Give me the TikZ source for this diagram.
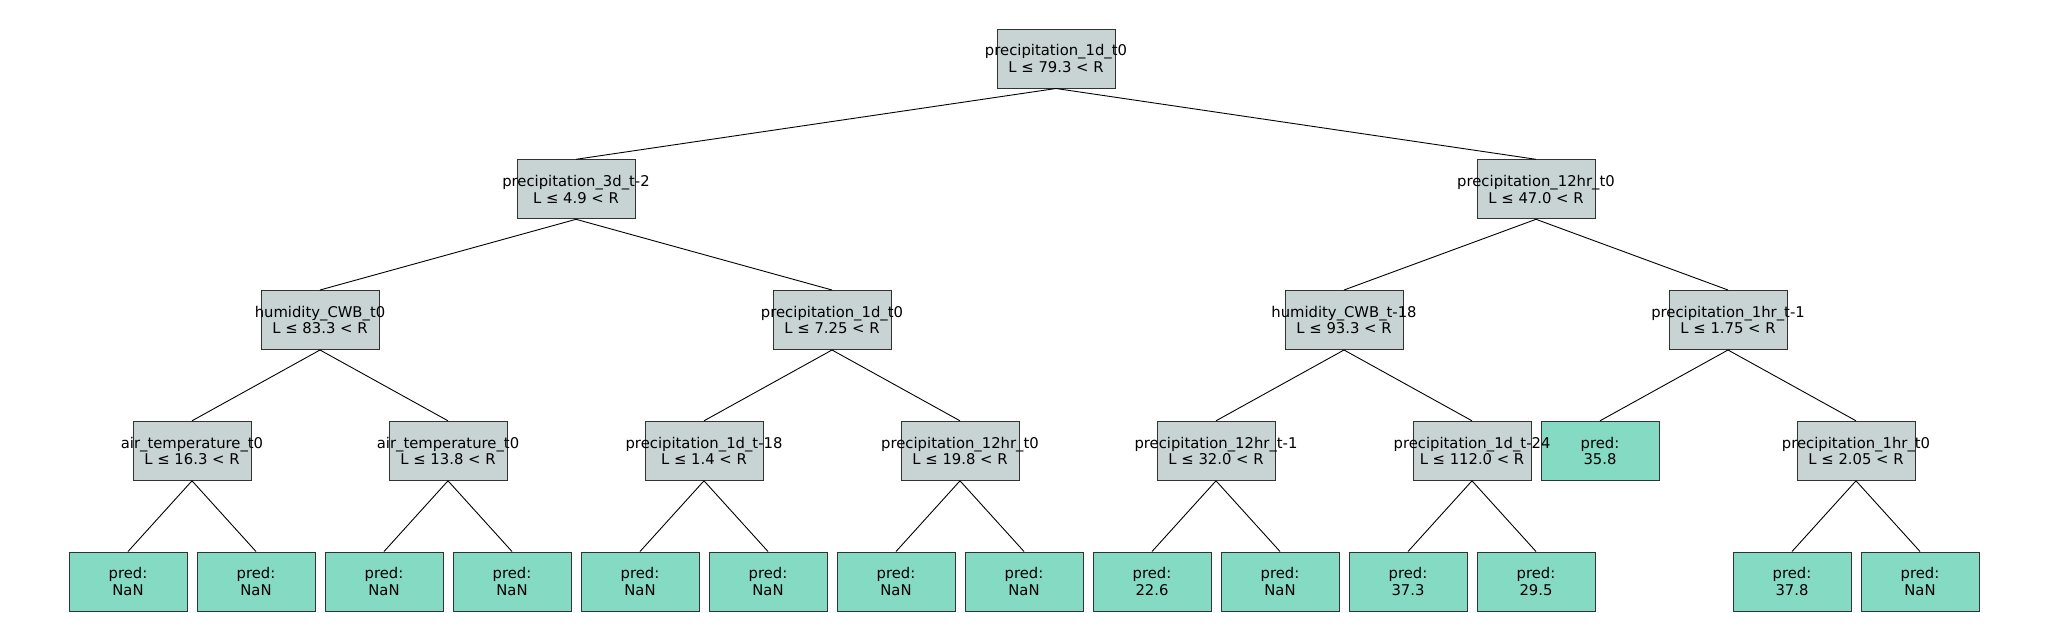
\documentclass[tikz,border=0pt]{standalone}
\usepackage{fontspec}
\setmainfont{DejaVu Sans}
\definecolor{splitfill}{RGB}{200,212,212}
\definecolor{leaffill}{RGB}{133,218,196}
\definecolor{boxline}{RGB}{50,50,50}
\newcommand{\tl}[2]{\makebox[0pt]{#1}\\\makebox[0pt]{#2}}
\begin{document}
\begin{tikzpicture}[x=1pt,y=1pt,
  treebox/.style={draw=boxline,line width=1pt,minimum width=118pt,minimum height=59pt,inner sep=0pt,align=center,font=\fontsize{14.8}{16.5}\selectfont},
  split/.style={treebox,fill=splitfill},
  leaf/.style={treebox,fill=leaffill},
  edge/.style={draw=black,line width=0.9pt}]
\useasboundingbox (0,0) rectangle (2048,-640);
% level 0
\node[split] (n0) at (1056,-58.5) {\tl{precipitation\_1d\_t0}{L ≤ 79.3 < R}};
% level 1
\node[split] (a) at (576,-189.3) {\tl{precipitation\_3d\_t-2}{L ≤ 4.9 < R}};
\node[split] (b) at (1536,-189.3) {\tl{precipitation\_12hr\_t0}{L ≤ 47.0 < R}};
% level 2
\node[split] (aa) at (320,-320) {\tl{humidity\_CWB\_t0}{L ≤ 83.3 < R}};
\node[split] (ab) at (832,-320) {\tl{precipitation\_1d\_t0}{L ≤ 7.25 < R}};
\node[split] (ba) at (1344,-320) {\tl{humidity\_CWB\_t-18}{L ≤ 93.3 < R}};
\node[split] (bb) at (1728,-320) {\tl{precipitation\_1hr\_t-1}{L ≤ 1.75 < R}};
% level 3
\node[leaf] (bba) at (1600,-450.8) {\tl{pred:}{35.8}};
\node[split] (aaa) at (192,-450.8) {\tl{air\_temperature\_t0}{L ≤ 16.3 < R}};
\node[split] (aab) at (448,-450.8) {\tl{air\_temperature\_t0}{L ≤ 13.8 < R}};
\node[split] (aba) at (704,-450.8) {\tl{precipitation\_1d\_t-18}{L ≤ 1.4 < R}};
\node[split] (abb) at (960,-450.8) {\tl{precipitation\_12hr\_t0}{L ≤ 19.8 < R}};
\node[split] (baa) at (1216,-450.8) {\tl{precipitation\_12hr\_t-1}{L ≤ 32.0 < R}};
\node[split] (bab) at (1472,-450.8) {\tl{precipitation\_1d\_t-24}{L ≤ 112.0 < R}};
\node[split] (bbb) at (1856,-450.8) {\tl{precipitation\_1hr\_t0}{L ≤ 2.05 < R}};
% level 4
\node[leaf] (l1) at (128,-581.5) {\tl{pred:}{NaN}};
\node[leaf] (l2) at (256,-581.5) {\tl{pred:}{NaN}};
\node[leaf] (l3) at (384,-581.5) {\tl{pred:}{NaN}};
\node[leaf] (l4) at (512,-581.5) {\tl{pred:}{NaN}};
\node[leaf] (l5) at (640,-581.5) {\tl{pred:}{NaN}};
\node[leaf] (l6) at (768,-581.5) {\tl{pred:}{NaN}};
\node[leaf] (l7) at (896,-581.5) {\tl{pred:}{NaN}};
\node[leaf] (l8) at (1024,-581.5) {\tl{pred:}{NaN}};
\node[leaf] (l9) at (1152,-581.5) {\tl{pred:}{22.6}};
\node[leaf] (l10) at (1280,-581.5) {\tl{pred:}{NaN}};
\node[leaf] (l11) at (1408,-581.5) {\tl{pred:}{37.3}};
\node[leaf] (l12) at (1536,-581.5) {\tl{pred:}{29.5}};
\node[leaf] (l13) at (1792,-581.5) {\tl{pred:}{37.8}};
\node[leaf] (l14) at (1920,-581.5) {\tl{pred:}{NaN}};
% edges
\foreach \p/\c in {n0/a,n0/b,a/aa,a/ab,b/ba,b/bb,aa/aaa,aa/aab,ab/aba,ab/abb,ba/baa,ba/bab,bb/bba,bb/bbb,
  aaa/l1,aaa/l2,aab/l3,aab/l4,aba/l5,aba/l6,abb/l7,abb/l8,baa/l9,baa/l10,bab/l11,bab/l12,bbb/l13,bbb/l14}
  \draw[edge] (\p.south) -- (\c.north);
\end{tikzpicture}
\end{document}
